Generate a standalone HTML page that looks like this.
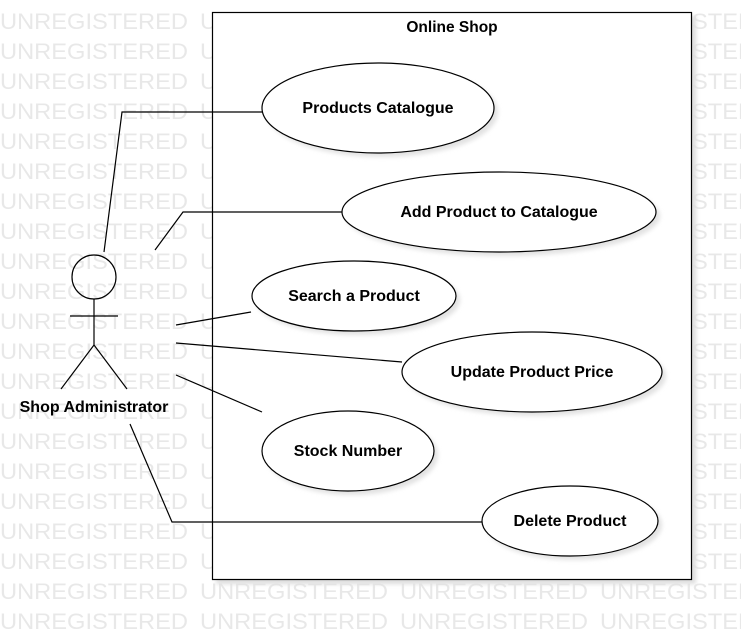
<!DOCTYPE html>
<html><head><meta charset="utf-8"><style>
html,body{margin:0;padding:0;background:#fff;}
svg{display:block;}
</style></head><body>
<svg width="741" height="631" viewBox="0 0 741 631" xmlns="http://www.w3.org/2000/svg" font-family="Liberation Sans, sans-serif">
<defs>
<filter id="sh" x="-10%" y="-10%" width="130%" height="130%"><feGaussianBlur stdDeviation="2"/></filter>
</defs>
<rect x="216" y="16" width="480" height="568" fill="#ddd" filter="url(#sh)"/>
<rect x="212.5" y="12.5" width="479" height="567" fill="#fff" stroke="#000" stroke-width="1.2"/>
<text x="452" y="32" font-size="15.5" font-weight="bold" text-anchor="middle">Online Shop</text>
<g fill="#e2e2e2" filter="url(#sh)">
<ellipse cx="382" cy="112" rx="116" ry="45"/>
<ellipse cx="503" cy="216" rx="157" ry="40"/>
<ellipse cx="358" cy="300" rx="102" ry="35"/>
<ellipse cx="536" cy="376" rx="130" ry="40"/>
<ellipse cx="352" cy="455" rx="86" ry="40"/>
<ellipse cx="574" cy="525" rx="88" ry="35"/>
</g>
<g fill="#fff" stroke="#000" stroke-width="1.2">
<ellipse cx="378" cy="108" rx="116" ry="45"/>
<ellipse cx="499" cy="212" rx="157" ry="40"/>
<ellipse cx="354" cy="296" rx="102" ry="35"/>
<ellipse cx="532" cy="372" rx="130" ry="40"/>
<ellipse cx="348" cy="451" rx="86" ry="40"/>
<ellipse cx="570" cy="521" rx="88" ry="35"/>
</g>
<g font-size="16" font-weight="bold" text-anchor="middle">
<text x="378" y="113">Products Catalogue</text>
<text x="499" y="217">Add Product to Catalogue</text>
<text x="354" y="301">Search a Product</text>
<text x="532" y="377">Update Product Price</text>
<text x="348" y="456">Stock Number</text>
<text x="570" y="526">Delete Product</text>
</g>
<g fill="none" stroke="#000" stroke-width="1.2">
<polyline points="104,252 122,112 262,112"/>
<polyline points="155,250 183,212 342,212"/>
<line x1="176" y1="325" x2="251" y2="312"/>
<line x1="176" y1="343" x2="402" y2="362"/>
<line x1="176" y1="375" x2="262" y2="412"/>
<polyline points="130,424 172,522 482,522"/>
<circle cx="94" cy="277" r="22" fill="none"/>
<line x1="94" y1="299" x2="94" y2="345"/>
<line x1="70" y1="316" x2="118" y2="316"/>
<line x1="94" y1="345" x2="61" y2="389"/>
<line x1="94" y1="345" x2="127" y2="389"/>
</g>
<text x="94" y="412" font-size="16" font-weight="bold" text-anchor="middle">Shop Administrator</text>
</svg>
<script>
(function(){
var ns="http://www.w3.org/2000/svg",svg=document.querySelector('svg'),g=document.createElementNS(ns,'g');
g.setAttribute('fill','#e8e8e8');g.setAttribute('font-size','22');
for(var r=0;r<21;r++){for(var c=0;c<4;c++){var t=document.createElementNS(ns,'text');t.setAttribute('x',c*200);t.setAttribute('y',29+r*30);t.setAttribute('textLength','188');t.setAttribute('lengthAdjust','spacingAndGlyphs');t.textContent='UNREGISTERED';g.appendChild(t);}}
svg.insertBefore(g,svg.firstChild);
})();
</script>
</body></html>
